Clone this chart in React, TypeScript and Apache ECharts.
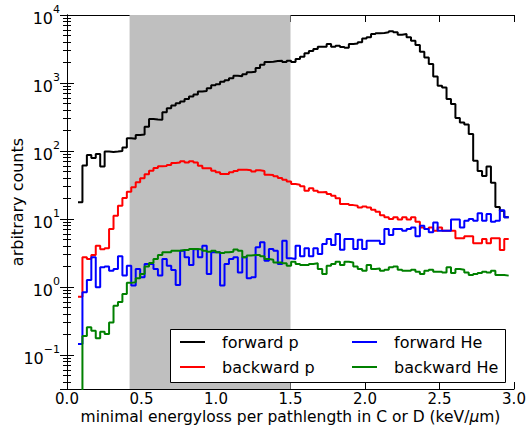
import React, { useEffect, useRef } from 'react';
import * as echarts from 'echarts';

// histogram binning (keV/um)
const binStart = 0.0738;
const binWidth = 0.0298;

const forwardP = [
  17.6, 61, 87, 79, 90, 59, 98, 97, 98, 100,
  113, 154, 152, 172, 175, 228, 296, 290, 288, 372,
  424, 465, 503, 535, 582, 635, 680, 750, 760, 834,
  930, 960, 1040, 1100, 1172, 1280, 1260, 1350, 1436, 1466,
  1660, 1850, 2040, 2060, 2100, 2130, 2040, 2130, 2040, 2250,
  2440, 2730, 2950, 3160, 3420, 3420, 3740, 3420, 3540, 3380,
  3300, 3740, 3800, 3960, 4530, 4690, 5250, 5380, 5450, 5560,
  5750, 5560, 5130, 5250, 4690, 4180, 3610, 2880, 2380, 1900,
  1250, 910, 860, 582, 492, 305, 263, 246, 178, 72,
  51, 43, 59, 34, 15, 13.2, 10.6,
];

const backwardP = [
  0.72, 2.73, 2.58, 2.95, 4.05, 3.6, 3.7, 7.1, 11.2, 15.7,
  20.4, 25.2, 29.2, 34.7, 39.6, 45.4, 51.3, 56.3, 59.6, 60,
  62, 66.5, 68, 70.7, 68, 70.7, 68, 60.8, 55.6, 55.6,
  51.3, 48.5, 46, 46, 48.5, 51, 53, 53, 52, 50,
  52, 51, 44.8, 44.5, 42.5, 40, 37.8, 35.6, 32.7, 32,
  30.2, 26, 28.3, 26, 24.7, 25, 23.3, 22, 20.2, 16.6,
  16.6, 16, 15.7, 14.8, 15.3, 14.8, 13.7, 12.8, 11.4, 10.6,
  10, 10.6, 9.8, 10.6, 9.8, 10.6, 9.1, 7.5, 7.1, 7.5,
  6.7, 7.5, 6.7, 6.7, 6.7, 5.2, 5.2, 5.56, 5.56, 4.4,
  4.4, 5.1, 4.4, 5.2, 5.2, 3.5, 5.1,
];

const forwardHe = [
  0.145, 0.84, 1.27, 2.73, 0.99, 1.95, 2.0, 1.74, 1.84, 2.83,
  1.47, 2.06, 1.05, 1.84, 1.39, 2.18, 2.18, 1.84, 1.47, 2.58,
  2.06, 1.78, 1.07, 3.42, 2.73, 2.1, 3.6, 2.73, 4.05, 1.55,
  3.24, 3.24, 1.05, 2.18, 2.58, 2.73, 1.64, 2.73, 1.34, 1.39,
  3.83, 4.54, 2.44, 3.62, 3.42, 2.18, 4.8, 2.64, 2.58, 4.05,
  2.83, 3.7, 2.83, 3.7, 3.06, 4.29, 5.08, 4.15, 6.0, 3.54,
  5.08, 5.08, 3.62, 4.97, 3.62, 4.8, 4.8, 4.8, 4.29, 7.1,
  5.8, 7.1, 7.1, 6.7, 7.1, 7.5, 5.56, 7.95, 7.1, 6.4,
  8.9, 6.7, 6.7, 6.7, 9.8, 9.8, 7.5, 9.4, 10, 9.4,
  12.2, 9.4, 11.8, 9.1, 9.4, 13.5, 10.6,
];

const backwardHe = [
  0.001, 0.19, 0.255, 0.228, 0.176, 0.22, 0.204, 0.3, 0.53, 0.6,
  0.79, 1.15, 1.17, 1.34, 1.55, 2.0, 2.25, 2.58, 2.95, 3.24,
  3.24, 3.42, 3.42, 3.5, 3.5, 3.62, 3.62, 3.55, 3.42, 3.3,
  3.42, 3.24, 3.16, 3.24, 3.3, 3.55, 3.42, 2.73, 2.9, 2.95,
  2.95, 2.83, 2.58, 2.52, 2.3, 2.3, 2.23, 2.06, 2.35, 2.18,
  2.1, 2.1, 2.18, 2.23, 1.84, 1.55, 2.06, 2.18, 2.35, 2.1,
  2.35, 2.3, 2.0, 1.84, 1.74, 2.1, 1.84, 1.87, 1.74, 1.8,
  1.95, 2.0, 1.8, 1.74, 1.74, 1.8, 1.68, 1.55, 1.74, 1.8,
  1.68, 1.68, 1.64, 1.95, 1.6, 1.84, 1.8, 1.64, 1.5, 1.55,
  1.6, 1.68, 1.64, 1.74, 1.5, 1.5, 1.47,
];

const seriesNames = ['forward p', 'backward p', 'forward He', 'backward He'];
const seriesColors = ['#000000', '#ff0000', '#0000ff', '#008000'];
const shadedRange = [0.42, 1.5];
const xRange = [0, 3];
const xTickStep = 0.5;
const yRange = [Math.pow(10, -1.5), 1e4];
const xTitle = 'minimal energyloss per pathlength in C or D (keV/{i|\u03bc}m)';
const yTitle = 'arbitrary counts';

const FONT = 'DejaVu Sans';

function toSteps(values: number[]): number[][] {
  const pts = values.map((v, k) => [binStart + k * binWidth, v]);
  pts.push([binStart + values.length * binWidth, values[values.length - 1]]);
  return pts;
}

export default function App() {
  const ref = useRef<HTMLDivElement>(null);
  useEffect(() => {
    if (!ref.current) return;
    const chart = echarts.init(ref.current, undefined, { renderer: 'svg' });
    const allData = [forwardP, backwardP, forwardHe, backwardHe];

    const tick = { show: true, inside: true, length: 7, lineStyle: { color: '#000', width: 1 } };
    const axisLine = { show: true, lineStyle: { color: '#000', width: 1 } };

    const yLabelFormatter = (v: number) => {
      const e = Math.log10(v);
      const r = Math.round(e);
      if (Math.abs(e - r) > 1e-6) return '';
      const s = r < 0 ? '\u2212' + (-r) : String(r);
      return `{b|10}{s|${s}}`;
    };

    const yCommon = {
      type: 'log',
      logBase: 10,
      min: yRange[0],
      max: yRange[1],
      axisLine,
      axisTick: tick,
      minorTick: { show: true, splitNumber: 9, length: 4, lineStyle: { color: '#000', width: 1 } },
      splitLine: { show: false },
      minorSplitLine: { show: false },
    };

    const xCommon = {
      type: 'value',
      min: xRange[0],
      max: xRange[1],
      interval: xTickStep,
      axisLine,
      axisTick: tick,
      splitLine: { show: false },
    };

    const option: any = {
      animation: false,
      backgroundColor: '#fff',
      textStyle: { fontFamily: FONT },
      grid: { left: 67, right: 15, top: 15, bottom: 37, containLabel: false, outerBoundsMode: 'none' },
      xAxis: [
        {
          ...xCommon,
          position: 'bottom',
          axisLabel: {
            show: true,
            color: '#000',
            fontSize: 15,
            lineHeight: 12,
            fontFamily: FONT,
            margin: 3.5,
            formatter: (v: number) => v.toFixed(1),
          },
          name: xTitle,
          nameLocation: 'middle',
          nameGap: 21.7,
          nameMoveOverlap: false,
          nameTextStyle: {
            color: '#000',
            fontSize: 15.5,
            lineHeight: 12,
            fontFamily: FONT,
            rich: { i: { fontStyle: 'italic', fontSize: 15.5, lineHeight: 12, fontFamily: FONT, color: '#000' } },
          },
        },
        { ...xCommon, position: 'top', axisLabel: { show: false } },
      ],
      yAxis: [
        {
          ...yCommon,
          position: 'left',
          axisLabel: {
            show: true,
            color: '#000',
            fontFamily: FONT,
            margin: 7,
            formatter: yLabelFormatter,
            rich: {
              b: { fontSize: 16, fontFamily: FONT, color: '#000', padding: [6, 0, 0, 0], verticalAlign: 'bottom' },
              s: { fontSize: 11, fontFamily: FONT, color: '#000', padding: [0, 0, 8, 0], verticalAlign: 'top' },
            },
          },
          name: yTitle,
          nameLocation: 'middle',
          nameRotate: 90,
          nameGap: 42,
          nameMoveOverlap: false,
          nameTextStyle: { color: '#000', fontSize: 16, fontFamily: FONT },
        },
        { ...yCommon, position: 'right', axisLabel: { show: false } },
      ],
      legend: [
        {
          data: [seriesNames[0], seriesNames[1]],
          orient: 'vertical',
          left: 180,
          top: 332,
          padding: 0,
          itemGap: 5,
          itemWidth: 25,
          itemHeight: 2,
          icon: 'rect',
          selectedMode: false,
          z: 5,
          textStyle: { fontSize: 16, fontFamily: FONT, color: '#000', lineHeight: 20, padding: [0, 0, 0, 12] },
        },
        {
          data: [seriesNames[2], seriesNames[3]],
          orient: 'vertical',
          left: 352,
          top: 332,
          padding: 0,
          itemGap: 5,
          itemWidth: 25,
          itemHeight: 2,
          icon: 'rect',
          selectedMode: false,
          z: 5,
          textStyle: { fontSize: 16, fontFamily: FONT, color: '#000', lineHeight: 20, padding: [0, 0, 0, 12] },
        },
      ],
      graphic: [
        {
          type: 'rect',
          left: 170,
          top: 329,
          z: 3,
          shape: { width: 335, height: 53 },
          style: { fill: '#fff', stroke: '#000', lineWidth: 1 },
        },
      ],
      series: allData.map((vals, i) => ({
        name: seriesNames[i],
        type: 'line',
        step: 'end',
        xAxisIndex: 0,
        yAxisIndex: 0,
        data: toSteps(vals),
        showSymbol: false,
        symbol: 'none',
        clip: true,
        color: seriesColors[i],
        lineStyle: { color: seriesColors[i], width: 2 },
        z: 2,
        ...(i === 0
          ? {
              markArea: {
                silent: true,
                z: 1,
                itemStyle: { color: '#bfbfbf' },
                data: [[{ xAxis: shadedRange[0] }, { xAxis: shadedRange[1] }]],
              },
            }
          : {}),
      })),
    };

    chart.setOption(option);
    return () => chart.dispose();
  }, []);

  return (
    <div
      ref={ref}
      style={{ position: 'fixed', left: 0, top: 0, width: 529, height: 426 }}
    />
  );
}
